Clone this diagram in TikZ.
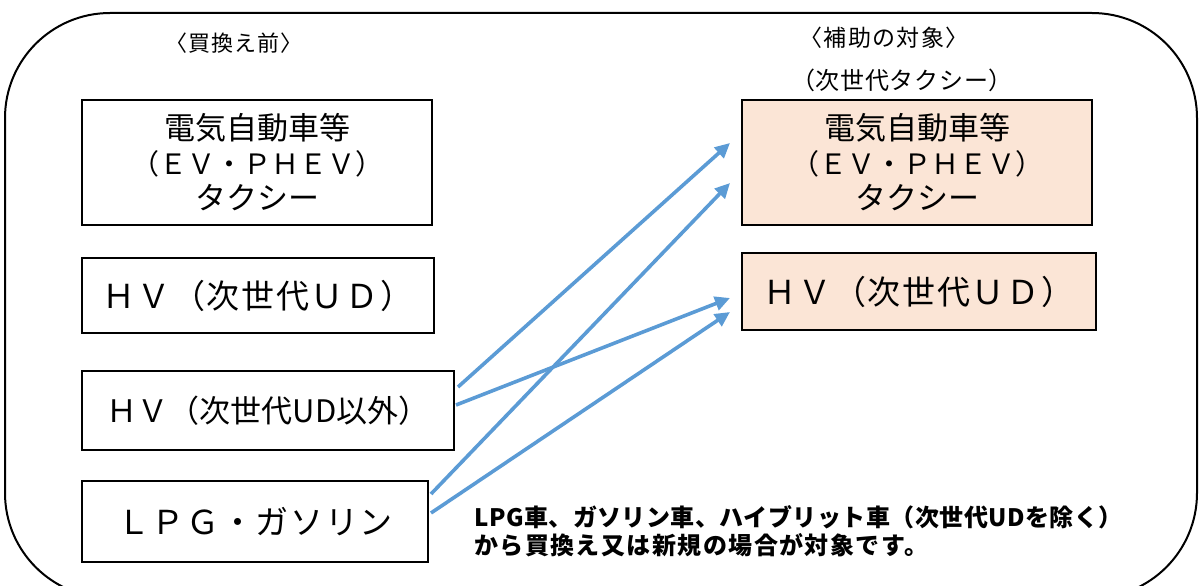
\documentclass[tikz,border=0pt]{standalone}
\usepackage{fontspec}
\setmainfont{Noto Sans CJK JP}
\usetikzlibrary{arrows.meta,calc}
\definecolor{peach}{HTML}{FBE5D6}
\definecolor{arrowblue}{HTML}{5B9BD5}
\begin{document}
\begin{tikzpicture}[x=1pt,y=-1pt,
  box/.style={draw=black,line width=2pt,inner sep=0pt,align=center,text=black},
  target/.style={box,fill=peach},
  boxfont/.style={font=\fontsize{31}{35}\selectfont},
  widefont/.style={font=\fontsize{33}{36}\selectfont\addfontfeature{LetterSpace=5}},
  hdr/.style={inner sep=0pt,text=black},
  conn/.style={draw=arrowblue,line width=3.6pt,-{Triangle[length=15pt,width=14pt]}},
]
\useasboundingbox (0,0) rectangle (1200,586);
\begin{scope}
\clip (0,0) rectangle (1200,586);
\draw[line width=2pt,rounded corners=105pt] (5,13) rectangle (1197,598);
\end{scope}

\node[hdr,font=\fontsize{22}{26}\selectfont\addfontfeature{LetterSpace=4}] (h1) at (234,43) {〈買換え前〉};
\node[hdr,font=\fontsize{23}{26}\selectfont\addfontfeature{LetterSpace=6}] (h2) at (884,38) {〈補助の対象〉};
\node[hdr,font=\fontsize{24}{28}\selectfont\addfontfeature{LetterSpace=3}] (h3) at (902,80) {（次世代タクシー）};

\node[box,boxfont,minimum width=350pt,minimum height=125pt] (b1) at (257,162.5)
  {電気自動車等\\{\fontsize{28}{35}\selectfont （ＥＶ・ＰＨＥＶ）}\\タクシー};
\node[box,widefont,minimum width=352pt,minimum height=75pt] (b2) at (258,295.5)
  {ＨＶ（次世代ＵＤ）};
\node[box,boxfont,minimum width=372pt,minimum height=79pt] (b3) at (268,410.5)
  {ＨＶ（次世代UD以外）};
\node[box,widefont,minimum width=346pt,minimum height=81pt] (b4) at (255,521.5)
  {ＬＰＧ・ガソリン};

\node[target,boxfont,minimum width=350pt,minimum height=125pt] (b5) at (917,162.5)
  {電気自動車等\\{\fontsize{28}{35}\selectfont （ＥＶ・ＰＨＥＶ）}\\タクシー};
\node[target,widefont,minimum width=354pt,minimum height=77pt] (b6) at (919,291.5)
  {ＨＶ（次世代ＵＤ）};

\draw[conn] ($(b3.east)+(3,-23.5)$) -- ($(b5.west)+(-11,-19.5)$);
\draw[conn] ($(b3.east)+(1,-5.5)$) -- ($(b6.west)+(-11,6.5)$);
\draw[conn] ($(b4.east)+(2,-27.5)$) -- ($(b5.west)+(-11,20.5)$);
\draw[conn] ($(b4.east)+(2,-8.5)$) -- ($(b6.west)+(-11,20.5)$);

\node[hdr,anchor=west,align=left,font=\bfseries\fontsize{24}{28}\selectfont\addfontfeature{LetterSpace=2}] (note) at (474,531)
  {LPG車、ガソリン車、ハイブリット車（次世代UDを除く）\\{\addfontfeature{LetterSpace=6}から買換え又は新規の場合が対象です。}};
\end{tikzpicture}
\end{document}
